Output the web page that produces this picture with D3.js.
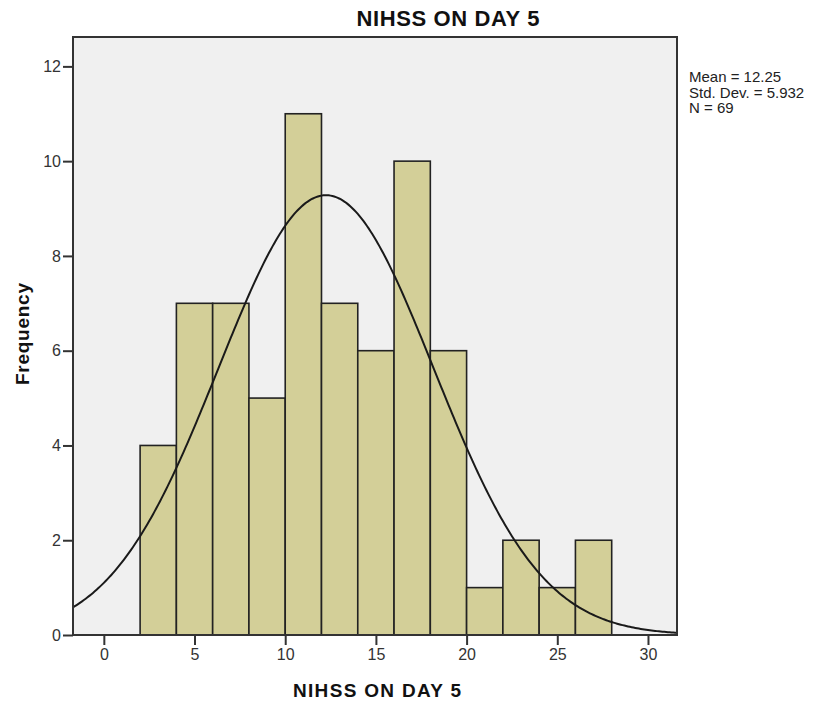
<!DOCTYPE html>
<html lang="en">
<head>
    <meta charset="UTF-8">
    <title>NIHSS ON DAY 5</title>
    <script src="https://d3js.org/d3.v7.min.js"></script>
    <style>
        body, html {
            margin: 0;
            background: #fff;
            font-family: 'Liberation Sans', Arial, sans-serif;
        }
        .tick line {
            stroke: #333;
            stroke-width: 2px;
        }
    </style>
</head>
<body>
<script>
    // histogram bins (width 2) and counts
    const binStarts = [2, 4, 6, 8, 10, 12, 14, 16, 18, 20, 22, 24, 26];
    const counts = [4, 7, 7, 5, 11, 7, 6, 10, 6, 1, 2, 1, 2];
    const binWidth = 2;
    const stats = { mean: 12.25, sd: 5.932, n: 69 };
    const xTicks = [0, 5, 10, 15, 20, 25, 30];
    const yTicks = [0, 2, 4, 6, 8, 10, 12];
    const statLines = ["Mean = 12.25", "Std. Dev. = 5.932", "N = 69"];

    const width = 817, height = 706;
    const plot = { left: 73, top: 37, right: 677, bottom: 635 };

    const svg = d3.select("body").append("svg")
        .attr("width", width)
        .attr("height", height);

    const x = d3.scaleLinear().domain([-1.7, 31.6]).range([plot.left, plot.right]);
    const y = d3.scaleLinear().domain([0, 12.62]).range([plot.bottom, plot.top]);

    // plot background
    svg.append("rect")
        .attr("x", plot.left).attr("y", plot.top)
        .attr("width", plot.right - plot.left)
        .attr("height", plot.bottom - plot.top)
        .attr("fill", "#f0f0f0");

    const bins = binStarts.map((s, i) => ({ x0: s, x1: s + binWidth, count: counts[i] }));

    svg.append("g")
        .selectAll("rect")
        .data(bins)
        .join("rect")
        .attr("x", d => x(d.x0))
        .attr("y", d => y(d.count))
        .attr("width", d => x(d.x1) - x(d.x0))
        .attr("height", d => y(0) - y(d.count))
        .attr("fill", "#d3cf98")
        .attr("stroke", "#222")
        .attr("stroke-width", 1.6);

    // fitted normal curve from the reported mean / sd / n
    const scale = stats.n * binWidth / (stats.sd * Math.sqrt(2 * Math.PI));
    const curvePts = d3.range(x.domain()[0], x.domain()[1] + 0.001, 0.1).map(v =>
        [v, scale * Math.exp(-0.5 * Math.pow((v - stats.mean) / stats.sd, 2))]);

    svg.append("path")
        .datum(curvePts)
        .attr("fill", "none")
        .attr("stroke", "#1a1a1a")
        .attr("stroke-width", 2)
        .attr("d", d3.line().x(d => x(d[0])).y(d => y(d[1])));

    // frame
    svg.append("rect")
        .attr("x", plot.left).attr("y", plot.top)
        .attr("width", plot.right - plot.left)
        .attr("height", plot.bottom - plot.top)
        .attr("fill", "none")
        .attr("stroke", "#333")
        .attr("stroke-width", 2);

    const xAxis = svg.append("g")
        .attr("transform", `translate(0,${plot.bottom})`)
        .call(d3.axisBottom(x).tickValues(xTicks).tickSize(10).tickPadding(4));
    xAxis.select(".domain").remove();

    const yAxis = svg.append("g")
        .attr("transform", `translate(${plot.left},0)`)
        .call(d3.axisLeft(y).tickValues(yTicks).tickSize(10).tickPadding(2));
    yAxis.select(".domain").remove();
    svg.selectAll(".tick text")
        .attr("font-family", "'Liberation Sans', Arial, sans-serif")
        .attr("font-size", 16)
        .attr("fill", "#333");

    // titles
    svg.append("text")
        .attr("x", 448).attr("y", 26)
        .attr("text-anchor", "middle")
        .attr("font-size", 22).attr("font-weight", "bold")
        .attr("fill", "#111")
        .attr("textLength", 183)
        .text("NIHSS ON DAY 5");

    svg.append("text")
        .attr("x", 377).attr("y", 697)
        .attr("text-anchor", "middle")
        .attr("font-size", 19).attr("font-weight", "bold")
        .attr("fill", "#111")
        .attr("textLength", 168)
        .text("NIHSS ON DAY 5");

    svg.append("text")
        .attr("transform", "translate(29,334) rotate(-90)")
        .attr("text-anchor", "middle")
        .attr("font-size", 19).attr("font-weight", "bold")
        .attr("fill", "#111")
        .attr("textLength", 102)
        .text("Frequency");

    svg.append("g")
        .selectAll("text")
        .data(statLines)
        .join("text")
        .attr("x", 689)
        .attr("y", (d, i) => 82 + i * 15.5)
        .attr("font-size", 15)
        .attr("fill", "#222")
        .text(d => d);
</script>
</body>
</html>
